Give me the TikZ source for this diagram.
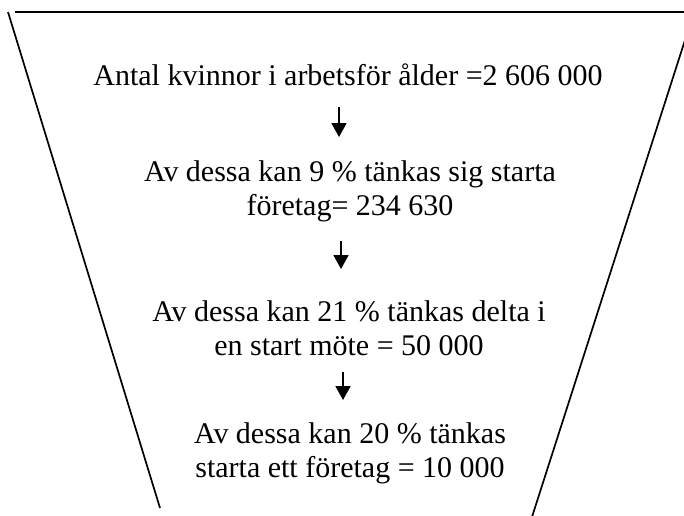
\documentclass[tikz,border=0pt]{standalone}
\usepackage{fontspec}
\setmainfont{Liberation Serif}
\usetikzlibrary{arrows.meta}
\tikzset{
  funnelline/.style={line width=1.7pt, black},
  txt/.style={inner sep=0pt, align=center, anchor=base, font=\fontsize{30}{34}\selectfont},
  arr/.style={line width=1.8pt, -{Triangle[width=15pt,length=14pt]}}
}
\begin{document}
\begin{tikzpicture}[x=1pt,y=-1pt]
\useasboundingbox (0,0) rectangle (684,515);
\fill[white] (0,0) rectangle (684,515);
\clip (0,0) rectangle (684,515);
% funnel outline
\draw[funnelline] (15,12) -- (700,12);
\draw[funnelline] (8,12) -- (160,508);
\draw[funnelline] (694,12) -- (531,520);
% texts (base anchor = baseline of last line)
\node[txt] (t1) at (348,85) {Antal kvinnor i arbetsför ålder =2 606 000};
\node[txt] (t2) at (350,215) {Av dessa kan 9 \% tänkas sig starta\\företag= 234 630};
\node[txt] (t3) at (349,355) {Av dessa kan 21 \% tänkas delta i\\en start möte = 50 000};
\node[txt] (t4) at (350,477) {Av dessa kan 20 \% tänkas\\starta ett företag = 10 000};
% arrows
\coordinate (a1s) at (339,107);
\coordinate (a1e) at (339,137);
\coordinate (a2s) at (341,241);
\coordinate (a2e) at (341,269);
\coordinate (a3s) at (343,372);
\coordinate (a3e) at (343,400);
\draw[arr] (a1s) -- (a1e);
\draw[arr] (a2s) -- (a2e);
\draw[arr] (a3s) -- (a3e);
\end{tikzpicture}
\end{document}
